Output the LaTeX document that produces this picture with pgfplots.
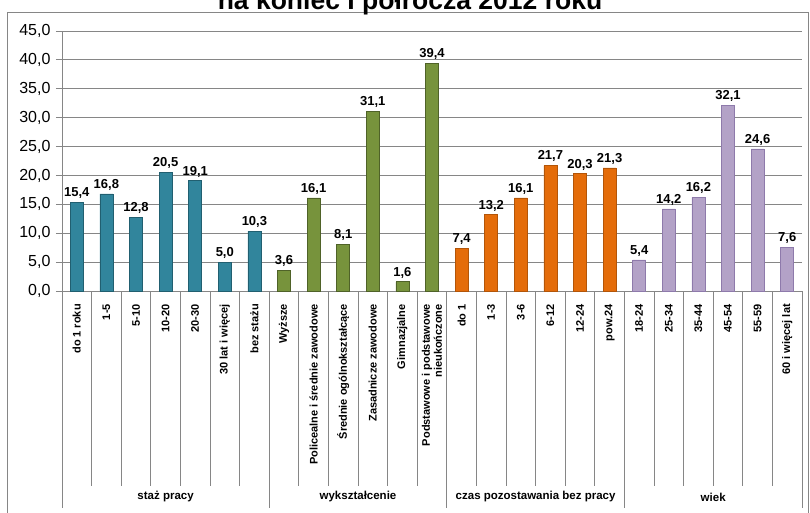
\documentclass[border=0pt]{standalone}
\usepackage{fontspec}
\setmainfont{Liberation Sans}
\usepackage{pgfplots}
\pgfplotsset{compat=1.18}
\definecolor{cteal}{HTML}{31859C}
\definecolor{ctealD}{HTML}{215F70}
\definecolor{cgreen}{HTML}{77933C}
\definecolor{cgreenD}{HTML}{4F6228}
\definecolor{corange}{HTML}{E46C0A}
\definecolor{corangeD}{HTML}{B35508}
\definecolor{cpurple}{HTML}{B3A2C7}
\definecolor{cpurpleD}{HTML}{8E7AAB}
\definecolor{cgrid}{HTML}{868686}
\begin{document}
\begin{tikzpicture}[x=1pt,y=1pt]
\path[use as bounding box] (0,0) rectangle (810,512);
\draw[cgrid, line width=0.8pt] (7.5,-5) rectangle (808,500);
\node[font=\fontsize{26.5}{30}\selectfont\bfseries, anchor=base, inner sep=0pt] at (410,502.7) {na koniec I półrocza 2012 roku};
\begin{axis}[
  at={(62pt,221pt)}, anchor=south west,
  scale only axis, width=740pt, height=260pt,
  xmin=0, xmax=25, ymin=0, ymax=45,
  clip=false,
  axis lines*=left,
  axis line style={cgrid, line width=0.8pt},
  ytick={0,5,...,45},
  ymajorgrids,
  grid style={cgrid, line width=0.8pt},
  ytick align=outside,
  major tick length=6pt,
  tick style={cgrid, line width=0.8pt},
  xtick={0.5,1.5,...,24.5},
  xtick style={draw=none},
  xticklabels={do 1 roku,1-5,5-10,10-20,20-30,30 lat i więcej,bez stażu,Wyższe,Policealne i średnie zawodowe,Średnie ogólnokształcące,Zasadnicze zawodowe,Gimnazjalne,{Podstawowe i podstawowe\\nieukończone},do 1,1-3,3-6,6-12,12-24,pow.24,18-24,25-34,35-44,45-54,55-59,60 i więcej lat},
  xticklabel style={rotate=90, anchor=east, align=right, font=\fontsize{11}{12}\selectfont\bfseries, inner sep=0pt},
  xticklabel shift=7pt,
  yticklabel style={font=\fontsize{16}{18}\selectfont, xshift=-2pt},
  /pgf/number format/.cd, fixed, fixed zerofill, precision=1, use comma, assume math mode=true,
  /pgfplots/.cd,
  ybar, bar width=13pt, bar shift=0pt,
  nodes near coords,
  every node near coord/.append style={font=\fontsize{13}{15}\selectfont\bfseries, black},
]
\addplot[draw=ctealD, line width=0.6pt, fill=cteal] coordinates {(0.5,15.4) (1.5,16.8) (2.5,12.8) (3.5,20.5) (4.5,19.1) (5.5,5.0) (6.5,10.3)};
\addplot[draw=cgreenD, line width=0.6pt, fill=cgreen] coordinates {(7.5,3.6) (8.5,16.1) (9.5,8.1) (10.5,31.1) (11.5,1.6) (12.5,39.4)};
\addplot[draw=corangeD, line width=0.6pt, fill=corange] coordinates {(13.5,7.4) (14.5,13.2) (15.5,16.1) (16.5,21.7) (17.5,20.3) (18.5,21.3)};
\addplot[draw=cpurpleD, line width=0.6pt, fill=cpurple] coordinates {(19.5,5.4) (20.5,14.2) (21.5,16.2) (22.5,32.1) (23.5,24.6) (24.5,7.6)};
\pgfplotsinvokeforeach{1,2,3,4,5,6,8,9,10,11,12,14,15,16,17,18,20,21,22,23,24}{
  \draw[cgrid, line width=0.8pt] (axis cs:#1,0) -- ++(0,-195pt);
}
\pgfplotsinvokeforeach{0,7,13,19,25}{
  \draw[cgrid, line width=0.8pt] (axis cs:#1,0) -- ++(0,-217pt);
}
\node[font=\fontsize{11.5}{13}\selectfont\bfseries] at ([yshift=-206pt]axis cs:3.5,0) {staż pracy};
\node[font=\fontsize{11.5}{13}\selectfont\bfseries] at ([yshift=-206pt]axis cs:10,0) {wykształcenie};
\node[font=\fontsize{11.5}{13}\selectfont\bfseries] at ([yshift=-206pt]axis cs:16,0) {czas pozostawania bez pracy};
\node[font=\fontsize{11.5}{13}\selectfont\bfseries] at ([yshift=-206pt]axis cs:22,0) {wiek};
\end{axis}
\end{tikzpicture}
\end{document}
